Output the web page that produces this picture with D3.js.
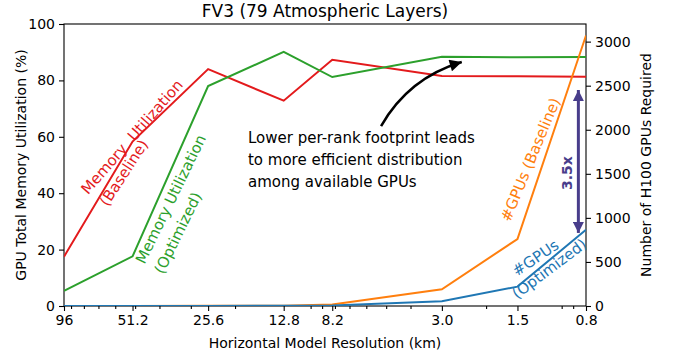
<!DOCTYPE html>
<html><head><meta charset="utf-8">
<script src="https://cdn.jsdelivr.net/npm/d3@7"></script>
<style>
body{margin:0;background:#fff;}
text{font-family:"DejaVu Sans",sans-serif;}
</style></head>
<body><svg id="c" width="677" height="360"></svg>
<script>
// ---- data ----
const resolutions = [96, 51.2, 25.6, 12.8, 8.2, 3.0, 1.5, 0.8];
const tickLabels = ["96", "51.2", "25.6", "12.8", "8.2", "3.0", "1.5", "0.8"];
const minorTicks = [90, 80, 70, 60, 50, 40, 30, 20, 10, 9, 8, 7, 6, 5, 4, 2, 1, 0.9];
const memBaseline = [17.5, 58.3, 84.0, 72.8, 87.3, 81.6, 81.5, 81.3];
const memOptimized = [5.4, 17.6, 78.0, 90.1, 81.2, 88.4, 88.2, 88.3];
const gpusBaseline = [0.5, 1, 2, 4, 17, 190, 760, 3070];
const gpusOptimized = [0.2, 0.5, 1, 2, 6, 55, 220, 865];
const leftTicks = [0, 20, 40, 60, 80, 100];
const rightTicks = [0, 500, 1000, 1500, 2000, 2500, 3000];

const colors = {memB:"#e31a1c", memO:"#2ca02c", gpuB:"#ff7f0e", gpuO:"#1f77b4", ratio:"#483d8b"};

// ---- layout ----
const svg = d3.select("#c");
const L = 64, R = 586, T = 24, B = 306;
const x = d3.scaleLog().domain([96, 0.8]).range([L, R]);
const yL = d3.scaleLinear().domain([0, 100]).range([B, T]);
const yR = d3.scaleLinear().domain([0, 3200]).range([B, T]);

svg.append("defs").append("clipPath").attr("id","clip")
  .append("rect").attr("x",L).attr("y",T).attr("width",R-L).attr("height",B-T);

// axes
const fs = "14px";
svg.append("g").attr("transform",`translate(0,${B})`)
  .call(d3.axisBottom(x).tickValues(resolutions).tickFormat((d,i)=>tickLabels[i]).tickSize(5).tickPadding(4));
svg.append("g").attr("transform",`translate(0,${B})`)
  .call(d3.axisBottom(x).tickValues(minorTicks).tickFormat("").tickSize(3));
svg.append("g").attr("transform",`translate(${L},0)`)
  .call(d3.axisLeft(yL).tickValues(leftTicks).tickFormat(d3.format("d")).tickSize(5).tickPadding(4));
svg.append("g").attr("transform",`translate(${R},0)`)
  .call(d3.axisRight(yR).tickValues(rightTicks).tickFormat(d3.format("d")).tickSize(5).tickPadding(4));
svg.selectAll(".tick text").attr("font-size",fs).attr("fill","#000").style("font-family","DejaVu Sans");
svg.selectAll(".tick line").attr("stroke","#000").attr("stroke-width",1.1);
svg.selectAll(".domain").remove();
// frame
svg.append("rect").attr("x",L).attr("y",T).attr("width",R-L).attr("height",B-T)
  .attr("fill","none").attr("stroke","#000").attr("stroke-width",1.1);

// lines
const plot = svg.append("g").attr("clip-path","url(#clip)");
const lineL = d3.line().x((d,i)=>x(resolutions[i])).y(d=>yL(d));
const lineR = d3.line().x((d,i)=>x(resolutions[i])).y(d=>yR(d));
plot.append("path").datum(memBaseline).attr("d",lineL).attr("fill","none").attr("stroke",colors.memB).attr("stroke-width",2);
plot.append("path").datum(memOptimized).attr("d",lineL).attr("fill","none").attr("stroke",colors.memO).attr("stroke-width",2);
plot.append("path").datum(gpusBaseline).attr("d",lineR).attr("fill","none").attr("stroke",colors.gpuB).attr("stroke-width",2);
plot.append("path").datum(gpusOptimized).attr("d",lineR).attr("fill","none").attr("stroke",colors.gpuO).attr("stroke-width",2);

// titles
svg.append("text").attr("x",(L+R)/2).attr("y",17).attr("text-anchor","middle").attr("font-size","17px").text("FV3 (79 Atmospheric Layers)");
svg.append("text").attr("x",(L+R)/2).attr("y",348).attr("text-anchor","middle").attr("font-size",fs).text("Horizontal Model Resolution (km)");
svg.append("text").attr("transform",`translate(21,${(T+B)/2}) rotate(-90)`).attr("text-anchor","middle").attr("dominant-baseline","central").attr("font-size",fs).text("GPU Total Memory Utilization (%)");
svg.append("text").attr("transform",`translate(646,${(T+B)/2}) rotate(-90)`).attr("text-anchor","middle").attr("dominant-baseline","central").attr("font-size",fs).text("Number of H100 GPUs Required");

// rotated series labels (positions in data units)
const seriesLabels = [
  {t:"Memory\u00a0\u00a0Utilization", x:51.4, y:59.9, ax:"L", a:-49, c:colors.memB},
  {t:"(Baseline)", x:55.4, y:47.2, ax:"L", a:-57, c:colors.memB},
  {t:"Memory Utilization", x:35.98, y:37.9, ax:"L", a:-64, c:colors.memO},
  {t:"(Optimized)", x:33.7, y:25.9, ax:"L", a:-64, c:colors.memO},
  {t:"#GPUs (Baseline)", x:1.33, y:1660, ax:"R", a:-67.5, c:colors.gpuB},
  {t:"#GPUs", x:1.27, y:545, ax:"R", a:-34, c:colors.gpuO},
  {t:"(Optimized)", x:1.12, y:420, ax:"R", a:-37, c:colors.gpuO}
];
seriesLabels.forEach(s=>{
  const py = s.ax==="L" ? yL(s.y) : yR(s.y);
  svg.append("text").attr("transform",`translate(${x(s.x)},${py}) rotate(${s.a})`)
    .attr("text-anchor","middle").attr("dominant-baseline","central")
    .attr("font-size","15px").attr("fill",s.c).style("white-space","pre").text(s.t);
});

// annotation text
const noteLines = ["Lower per-rank footprint leads","to more efficient distribution","among available GPUs"];
const notePos = {x:17.76, y:57.8};
const note = svg.append("text").attr("x",x(notePos.x)).attr("y",yL(notePos.y)).attr("font-size","15px").attr("fill","#000");
noteLines.forEach((l,i)=>note.append("tspan").attr("x",x(notePos.x)).attr("dy",i===0?0:22).text(l));

// markers
const defs = svg.select("defs");
defs.append("marker").attr("id","blackHead").attr("viewBox","0 0 10 10").attr("refX",10).attr("refY",5)
  .attr("markerWidth",14).attr("markerHeight",12).attr("markerUnits","userSpaceOnUse").attr("orient","auto")
  .append("path").attr("d","M0,0L10,5L0,10z").attr("fill","#000");
defs.append("marker").attr("id","purpleHead").attr("viewBox","0 0 10 10").attr("refX",10).attr("refY",5)
  .attr("markerWidth",15).attr("markerHeight",11).attr("markerUnits","userSpaceOnUse").attr("orient","auto-start-reverse")
  .append("path").attr("d","M0,0L10,5L0,10z").attr("fill",colors.ratio);

// curved black arrow
const arrowTail = {x:5.24, y:63.8}, arrowTip = {x:2.5, y:86.5};
const p0 = [x(arrowTail.x), yL(arrowTail.y)], p2 = [x(arrowTip.x), yL(arrowTip.y)];
const mid = [(p0[0]+p2[0])/2, (p0[1]+p2[1])/2];
const dx = p2[0]-p0[0], dy = p2[1]-p0[1];
const rad = 0.2;
const ctrl = [mid[0] + rad*dy, mid[1] - rad*dx];
svg.append("path").attr("d",`M${p0[0]},${p0[1]}Q${ctrl[0]},${ctrl[1]} ${p2[0]},${p2[1]}`)
  .attr("fill","none").attr("stroke","#000").attr("stroke-width",2.5).attr("marker-end","url(#blackHead)");

// purple ratio arrow
const ratioArrow = {x:0.858, y0:829, y1:2451};
svg.append("line").attr("x1",x(ratioArrow.x)).attr("x2",x(ratioArrow.x))
  .attr("y1",yR(ratioArrow.y0)).attr("y2",yR(ratioArrow.y1))
  .attr("stroke",colors.ratio).attr("stroke-width",3)
  .attr("marker-start","url(#purpleHead)").attr("marker-end","url(#purpleHead)");
const ratioLabel = {t:"3.5x", x:0.954, y:1509};
svg.append("text").attr("transform",`translate(${x(ratioLabel.x)},${yR(ratioLabel.y)}) rotate(-90)`)
  .attr("text-anchor","middle").attr("dominant-baseline","central").attr("font-size","14px")
  .attr("font-weight","bold").attr("fill",colors.ratio).text(ratioLabel.t);
</script></body></html>
